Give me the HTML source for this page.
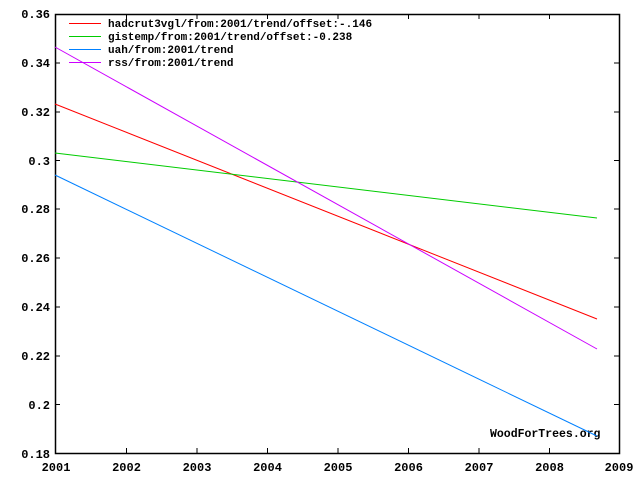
<!DOCTYPE html>
<html><head><style>body{margin:0;background:#fff}svg{display:block}text{font-family:"Liberation Mono",monospace;font-size:12px;font-weight:bold}.lg{font-size:11px}</style></head><body>
<svg width="640" height="480" viewBox="0 0 640 480">
<rect x="55.5" y="14.5" width="564" height="439" fill="none" stroke="#000" stroke-width="1.5"/>
<g stroke="#000" stroke-width="1">
<path d="M55 453.5h5M55 404.5h5M55 356h5M55 307h5M55 258h5M55 209h5M55 160.5h5M55 112h5M55 63h5M55 14.5h5"/>
<path d="M619 404.5h-5M619 356h-5M619 307h-5M619 258h-5M619 209h-5M619 160.5h-5M619 112h-5M619 63h-5"/>
<path d="M126.5 453v-5M197 453v-5M267.5 453v-5M338 453v-5M408.5 453v-5M479 453v-5M549.5 453v-5"/>
<path d="M126.5 14v5M197 14v5M267.5 14v5M338 14v5M408.5 14v5M479 14v5M549.5 14v5"/>
</g>
<g text-anchor="end">
<text x="50" y="458">0.18</text><text x="50" y="409">0.2</text><text x="50" y="360">0.22</text><text x="50" y="311">0.24</text><text x="50" y="262">0.26</text><text x="50" y="213">0.28</text><text x="50" y="165">0.3</text><text x="50" y="116">0.32</text><text x="50" y="67">0.34</text><text x="50" y="18">0.36</text>
</g>
<g text-anchor="middle">
<text x="56" y="471">2001</text><text x="126.5" y="471">2002</text><text x="197" y="471">2003</text><text x="267.5" y="471">2004</text><text x="338" y="471">2005</text><text x="408.5" y="471">2006</text><text x="479" y="471">2007</text><text x="549.5" y="471">2008</text><text x="619" y="471">2009</text>
</g>
<text x="490" y="437" style="font-size:11.5px">WoodForTrees.org</text>
<g fill="none" stroke-width="1">
<line x1="55" y1="104" x2="597" y2="319" stroke="#f00"/>
<line x1="55" y1="153" x2="597" y2="218" stroke="#0c0"/>
<line x1="55" y1="175" x2="597" y2="436" stroke="#0080ff"/>
<line x1="55" y1="47" x2="597" y2="349" stroke="#c0f"/>
<line x1="69" y1="23.5" x2="101" y2="23.5" stroke="#f00"/>
<line x1="69" y1="36.5" x2="101" y2="36.5" stroke="#0c0"/>
<line x1="69" y1="49.5" x2="101" y2="49.5" stroke="#0080ff"/>
<line x1="69" y1="62.5" x2="101" y2="62.5" stroke="#c0f"/>
</g>
<text x="108" y="27" class="lg">hadcrut3vgl/from:2001/trend/offset:-.146</text>
<text x="108" y="40" class="lg">gistemp/from:2001/trend/offset:-0.238</text>
<text x="108" y="53" class="lg">uah/from:2001/trend</text>
<text x="108" y="66" class="lg">rss/from:2001/trend</text>
</svg>
</body></html>
